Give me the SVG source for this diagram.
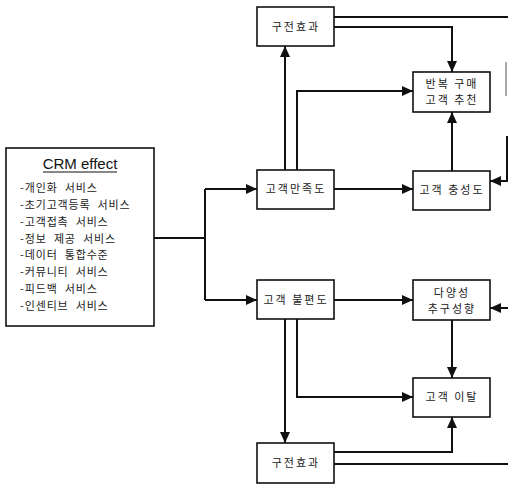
<svg xmlns="http://www.w3.org/2000/svg" width="508" height="486" viewBox="0 0 508 486">
  <style>
    .box { fill: #ffffff; stroke: #111111; stroke-width: 1.6; }
    .lbl { font-family: "Noto Sans CJK KR", "Noto Sans", sans-serif; font-size: 11px; fill: #222222; text-anchor: middle; letter-spacing: 2px; }
    .item { font-family: "Noto Sans CJK KR", "Noto Sans", sans-serif; font-size: 11px; fill: #222222; letter-spacing: 0.8px; word-spacing: 4px; }
    .dash { letter-spacing: 1px; }
    .title { font-family: "Liberation Sans", Arial, sans-serif; font-size: 15px; fill: #111111; text-anchor: middle; }
    .wire { fill: none; stroke: #111111; stroke-width: 2; }
    .thin { fill: none; stroke: #555555; stroke-width: 1; }
  </style>
  <defs>
    <marker id="arrow" markerUnits="userSpaceOnUse" markerWidth="11" markerHeight="10" refX="11" refY="5" orient="auto">
      <path d="M0,0 L11,5 L0,10 z" fill="#111111"/>
    </marker>
  </defs>
  <rect width="508" height="486" fill="#ffffff"/>

  <!-- connectors -->
  <g id="connectors">
    <path class="wire" d="M154,238 H205"/>
    <path class="wire" d="M205,189 V300"/>
    <path class="wire" d="M205,189 H257" marker-end="url(#arrow)"/>
    <path class="wire" d="M205,300 H257" marker-end="url(#arrow)"/>

    <path class="wire" d="M285,170 V46" marker-end="url(#arrow)"/>
    <path class="wire" d="M297,170 V91 H413" marker-end="url(#arrow)"/>
    <path class="wire" d="M334,27 H452 V72" marker-end="url(#arrow)"/>
    <path class="wire" d="M334,17 H508"/>
    <path class="wire" d="M452,171 V112" marker-end="url(#arrow)"/>
    <path class="wire" d="M334,189 H413" marker-end="url(#arrow)"/>
    <path class="wire" d="M507,136 V181 H490" marker-end="url(#arrow)"/>
    <path class="thin" d="M506,62 V96"/>

    <path class="wire" d="M334,300 H413" marker-end="url(#arrow)"/>
    <path class="wire" d="M508,308 H490" marker-end="url(#arrow)"/>
    <path class="wire" d="M285,319 V443" marker-end="url(#arrow)"/>
    <path class="wire" d="M297,319 V397 H413" marker-end="url(#arrow)"/>
    <path class="wire" d="M452,320 V378" marker-end="url(#arrow)"/>
    <path class="wire" d="M334,452 H452 V417" marker-end="url(#arrow)"/>
    <path class="wire" d="M334,464 H508"/>
  </g>

  <!-- CRM effect list -->
  <g id="crm-effect">
    <rect class="box" x="6" y="148" width="148" height="178"/>
    <text class="title" x="80" y="169">CRM effect</text>
    <line x1="43" y1="172" x2="117" y2="172" stroke="#111111" stroke-width="1"/>
    <text class="item" x="20" y="192"><tspan class="dash">-</tspan>개인화 서비스</text>
    <text class="item" x="20" y="209"><tspan class="dash">-</tspan>초기고객등록 서비스</text>
    <text class="item" x="20" y="226"><tspan class="dash">-</tspan>고객접촉 서비스</text>
    <text class="item" x="20" y="243"><tspan class="dash">-</tspan>정보 제공 서비스</text>
    <text class="item" x="20" y="259"><tspan class="dash">-</tspan>데이터 통합수준</text>
    <text class="item" x="20" y="276"><tspan class="dash">-</tspan>커뮤니티 서비스</text>
    <text class="item" x="20" y="293"><tspan class="dash">-</tspan>피드백 서비스</text>
    <text class="item" x="20" y="310"><tspan class="dash">-</tspan>인센티브 서비스</text>
  </g>

  <g id="word-of-mouth-top">
    <rect class="box" x="257" y="7" width="77" height="39"/>
    <text class="lbl" x="296" y="31">구전효과</text>
  </g>

  <g id="repurchase">
    <rect class="box" x="413" y="72" width="77" height="40"/>
    <text class="lbl" x="452" y="88">반복 구매</text>
    <text class="lbl" x="452" y="104">고객 추천</text>
  </g>

  <g id="satisfaction">
    <rect class="box" x="257" y="170" width="77" height="39"/>
    <text class="lbl" x="296" y="193">고객만족도</text>
  </g>

  <g id="loyalty">
    <rect class="box" x="413" y="171" width="77" height="39"/>
    <text class="lbl" x="452" y="194">고객 충성도</text>
  </g>

  <g id="dissatisfaction">
    <rect class="box" x="257" y="280" width="77" height="39"/>
    <text class="lbl" x="296" y="304">고객 불편도</text>
  </g>

  <g id="variety-seeking">
    <rect class="box" x="413" y="280" width="77" height="40"/>
    <text class="lbl" x="452" y="297">다양성</text>
    <text class="lbl" x="452" y="313">추구성향</text>
  </g>

  <g id="churn">
    <rect class="box" x="413" y="378" width="77" height="39"/>
    <text class="lbl" x="452" y="401">고객 이탈</text>
  </g>

  <g id="word-of-mouth-bottom">
    <rect class="box" x="257" y="443" width="77" height="40"/>
    <text class="lbl" x="296" y="467">구전효과</text>
  </g>
</svg>
